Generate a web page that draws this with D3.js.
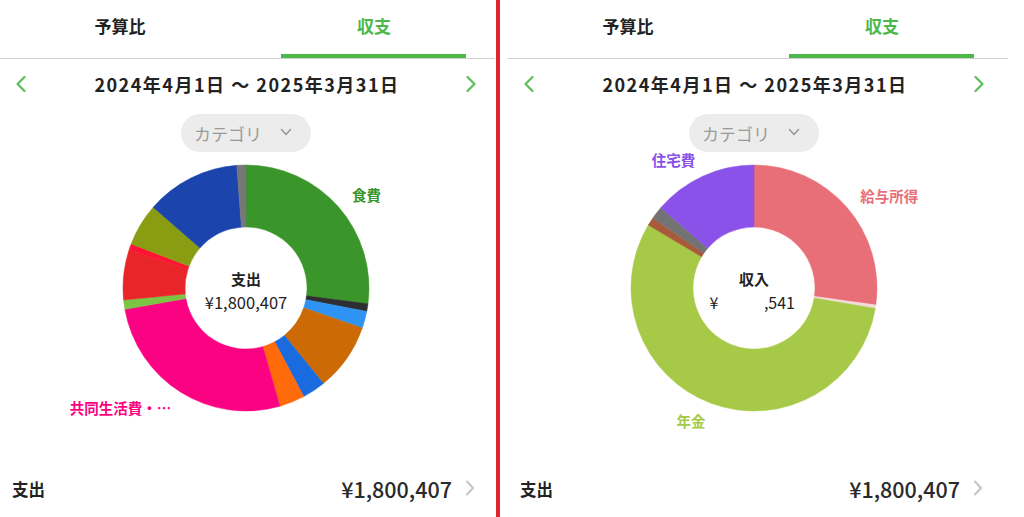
<!DOCTYPE html>
<html>
<head>
<meta charset="utf-8">
<script src="https://cdn.jsdelivr.net/npm/d3@7"></script>
<style>
  html, body { margin: 0; padding: 0; background: #fff; }
  svg { display: block; }
  text { font-family: "Noto Sans CJK JP", "Noto Sans", sans-serif; }
</style>
</head>
<body>
<svg id="chart" width="1024" height="517"></svg>
<script>
// ---- Data ----
const tabLabels = ["予算比", "収支"];
const periodLabel = "2024年4月1日 ～ 2025年3月31日";
const selectorLabel = "カテゴリ";

// Left panel: expense categories (yen)
const expenseCategories = ["食費", "その他", "日用品", "趣味・娯楽", "交通費", "交際費", "共同生活費・光熱費", "衣服・美容", "健康・医療", "教養・教育", "通信費", "水道・光熱費", "保険"];
const expenseValues = [487110, 18004, 40009, 160036, 55012, 60014, 480109, 22005, 118027, 15003, 100023, 223551, 21504];
const expenseColors = ["#3a962a", "#2e2e30", "#2e93f3", "#cc6a06", "#1a6ae0", "#ff6a0a", "#fb0282", "#7cc443", "#e8262a", "#ff1433", "#8a9c12", "#1b45ac", "#777777"];
const expenseDisplayLabels = ["食費", "", "", "", "", "", "共同生活費・…", "", "", "", "", "", ""];
const expenseTotalLabel = "支出";
const expenseTotalText = "¥1,800,407";

// Right panel: income categories (share, %)
const incomeCategories = ["給与所得", "賞与", "年金", "事業・副業", "臨時収入", "住宅費"];
const incomeValues = [27.2, 0.45, 55.9, 1.1, 1.65, 13.7];
const incomeColors = ["#e86f78", "#f3dcdc", "#a6ca48", "#a85a3a", "#737373", "#8a52e8"];
const incomeDisplayLabels = ["給与所得", "", "年金", "", "", "住宅費"];
const incomeTotalLabel = "収入";
const incomeTotalParts = ["¥", ",541"];

const footerLabel = "支出";
const footerValue = "¥1,800,407";

// ---- Drawing ----
const svg = d3.select("#chart");
const green = "#4cb84c";

function chevron(g, x, y, dir, color, w, h, sw) {
  const p = d3.path();
  if (dir === "left") { p.moveTo(x + w / 2, y - h / 2); p.lineTo(x - w / 2, y); p.lineTo(x + w / 2, y + h / 2); }
  else if (dir === "right") { p.moveTo(x - w / 2, y - h / 2); p.lineTo(x + w / 2, y); p.lineTo(x - w / 2, y + h / 2); }
  else { p.moveTo(x - w / 2, y - h / 2); p.lineTo(x, y + h / 2); p.lineTo(x + w / 2, y - h / 2); }
  g.append("path").attr("d", p.toString()).attr("fill", "none")
    .attr("stroke", color).attr("stroke-width", sw)
    .attr("stroke-linecap", "round").attr("stroke-linejoin", "round");
}

function drawPanel(ox, lineW, values, colors, labels, centerLabel, centerDraw, footerEndX) {
  const g = svg.append("g").attr("transform", `translate(${ox},0)`);

  // tabs
  g.append("text").attr("x", 120).attr("y", 25).attr("text-anchor", "middle")
    .attr("dominant-baseline", "central").attr("font-size", 17).attr("font-weight", 700)
    .attr("fill", "#222").text(tabLabels[0]);
  g.append("text").attr("x", 374).attr("y", 25).attr("text-anchor", "middle")
    .attr("dominant-baseline", "central").attr("font-size", 17).attr("font-weight", 700)
    .attr("fill", green).text(tabLabels[1]);
  g.append("rect").attr("x", 281).attr("y", 54).attr("width", 185).attr("height", 4).attr("fill", green);
  g.append("rect").attr("x", 0).attr("y", 58).attr("width", lineW).attr("height", 1).attr("fill", "#cfcfcf");

  // period row
  g.append("text").attr("x", 247).attr("y", 84).attr("text-anchor", "middle")
    .attr("dominant-baseline", "central").attr("font-size", 18).attr("font-weight", 700)
    .attr("fill", "#222").attr("letter-spacing", 1.5).text(periodLabel);
  chevron(g, 21, 84, "left", "#5cbf5c", 7, 14, 2.2);
  chevron(g, 471, 84, "right", "#5cbf5c", 7, 14, 2.2);

  // selector pill
  g.append("rect").attr("x", 181).attr("y", 114).attr("width", 130).attr("height", 38)
    .attr("rx", 19).attr("fill", "#ececec");
  g.append("text").attr("x", 228).attr("y", 133).attr("text-anchor", "middle")
    .attr("dominant-baseline", "central").attr("font-size", 17).attr("fill", "#9a9a9a")
    .text(selectorLabel);
  chevron(g, 286, 132, "down", "#9a9a9a", 9, 5, 1.6);

  // donut
  const cx = 246, cy = 288, R = 123, r = 61;
  const pie = d3.pie().sort(null).value(d => d.v);
  const data = values.map((v, i) => ({ v, c: colors[i], l: labels[i] }));
  const arcs = pie(data);
  const arc = d3.arc().innerRadius(r).outerRadius(R);
  const dg = g.append("g").attr("transform", `translate(${cx},${cy})`);
  dg.selectAll("path").data(arcs).join("path")
    .attr("d", arc).attr("fill", d => d.data.c)
    .attr("stroke", d => d.data.c).attr("stroke-width", 0.5);

  const labelArc = d3.arc().innerRadius(141).outerRadius(141);
  dg.selectAll("text.lbl").data(arcs.filter(d => d.data.l)).join("text")
    .attr("class", "lbl")
    .attr("transform", d => `translate(${labelArc.centroid(d)})`)
    .attr("text-anchor", d => ((d.startAngle + d.endAngle) / 2 < Math.PI ? "start" : "end"))
    .attr("dominant-baseline", "central")
    .attr("font-size", 14.5).attr("font-weight", 700)
    .attr("fill", d => d.data.c).text(d => d.data.l);

  // centre
  g.append("text").attr("x", cx).attr("y", 278).attr("text-anchor", "middle")
    .attr("dominant-baseline", "central").attr("font-size", 15).attr("font-weight", 700)
    .attr("fill", "#222").text(centerLabel);
  centerDraw(g, cx);

  // footer
  g.append("text").attr("x", 12).attr("y", 489).attr("dominant-baseline", "central")
    .attr("font-size", 16.5).attr("font-weight", 700).attr("fill", "#222").text(footerLabel);
  g.append("text").attr("x", footerEndX).attr("y", 488).attr("text-anchor", "end")
    .attr("dominant-baseline", "central").attr("font-size", 21.5).attr("font-weight", 500)
    .attr("fill", "#2a2a2a").text(footerValue);
  chevron(g, footerEndX + 18, 488, "right", "#c4c4c4", 6, 13, 2);
}

drawPanel(0, 495, expenseValues, expenseColors, expenseDisplayLabels, expenseTotalLabel,
  (g, cx) => {
    g.append("text").attr("x", cx).attr("y", 302).attr("text-anchor", "middle")
      .attr("dominant-baseline", "central").attr("font-size", 16.5).attr("fill", "#222")
      .text(expenseTotalText);
  }, 452);

drawPanel(508, 500, incomeValues, incomeColors, incomeDisplayLabels, incomeTotalLabel,
  (g, cx) => {
    g.append("text").attr("x", cx - 40).attr("y", 302).attr("text-anchor", "middle")
      .attr("dominant-baseline", "central").attr("font-size", 16).attr("fill", "#222")
      .text(incomeTotalParts[0]);
    g.append("text").attr("x", cx + 41).attr("y", 302).attr("text-anchor", "end")
      .attr("dominant-baseline", "central").attr("font-size", 16).attr("fill", "#222")
      .text(incomeTotalParts[1]);
  }, 452);

// red divider between the two screenshots
svg.append("rect").attr("x", 496).attr("y", 0).attr("width", 4).attr("height", 517).attr("fill", "#e0252b");
</script>
</body>
</html>
